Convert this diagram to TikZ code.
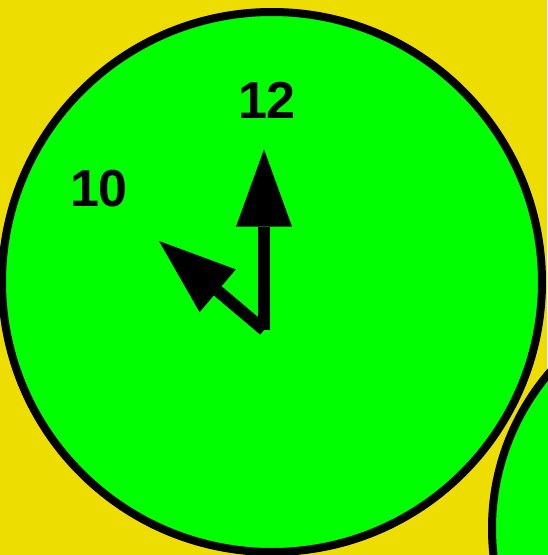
\documentclass[tikz,border=0pt]{standalone}
\usepackage{fontspec}
\setmainfont{Liberation Sans}
\definecolor{bgyellow}{RGB}{238,221,0}
\definecolor{facegreen}{RGB}{0,255,0}
\begin{document}
\begin{tikzpicture}[x=1pt,y=-1pt,
  face/.style={fill=facegreen,draw=black,line width=8pt},
  handline/.style={line width=12pt,line cap=butt,draw=black},
  handtip/.style={fill=black,draw=none},
  numeral/.style={font=\fontsize{52}{52}\selectfont\bfseries,anchor=base,inner sep=0pt}]
\useasboundingbox (0,0) rectangle (547,555);
\fill[bgyellow] (0,0) rectangle (547,555);
% second (partial) clock face
\draw[face] (732,528.5) circle[radius=240];
% main clock face
\draw[face] (272,282) circle[radius=270];
% numerals
\node[numeral] (n12) at (267,118) {12};
\node[numeral] (n10) at (99,206.5) {10};
% hands
\coordinate (ctr) at (264,330);
\coordinate (mbase) at (264,226.7);
\coordinate (mtip) at (264,149.3);
\coordinate (hbase) at (217.7,290.8);
\coordinate (htip) at (159,241);
\draw[handline] (ctr) -- (mbase);
\fill[handtip] (mtip) -- (236,226.7) -- (292,226.7) -- cycle;
\draw[handline] (ctr) -- (hbase);
\fill[handtip] (htip) -- (235.8,269.4) -- (199.6,312.2) -- cycle;
\end{tikzpicture}
\end{document}
